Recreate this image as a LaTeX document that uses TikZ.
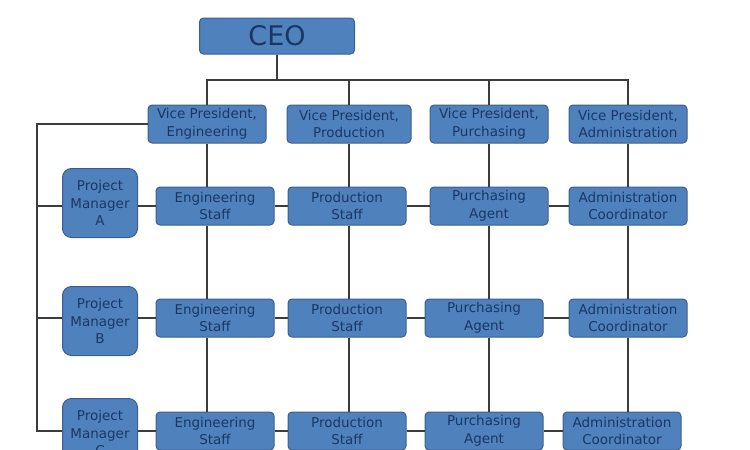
\documentclass[tikz,border=0pt]{standalone}
\usepackage{fontspec}
\setmainfont{DejaVu Sans}
\usepackage{xcolor}
\definecolor{boxblue}{HTML}{4F81BD}
\definecolor{boxline}{HTML}{3A5F8E}
\definecolor{boxtext}{HTML}{1B3766}
\definecolor{wirecol}{HTML}{3C3C3C}

\begin{document}
\begin{tikzpicture}[x=1pt, y=-1pt,
  box/.style={draw=boxline, fill=boxblue, rounded corners=4pt, line width=1pt, text=boxtext, align=center, inner sep=0pt,
    font=\fontsize{13.5}{17.5}\selectfont, minimum width=118pt, minimum height=38pt},
  pmbox/.style={box, rounded corners=9pt, minimum width=75pt, minimum height=69pt},
  ceobox/.style={box, font=\fontsize{27}{30}\selectfont, minimum width=155pt, minimum height=36pt},
  wire/.style={draw=wirecol, line width=1.7pt}]
\useasboundingbox (0,0) rectangle (750,450);
\draw node(ceo)[ceobox] at (277,36) {CEO};
\draw node(vp1)[box] at (207,124) {Vice President,\\Engineering};
\draw node(vp2)[box, minimum width=124pt] at (349,124) {Vice President,\\Production};
\draw node(vp3)[box] at (489,124) {Vice President,\\Purchasing};
\draw node(vp4)[box] at (628,124) {Vice President,\\Administration};
\draw node(pm1)[pmbox] at (100,203) {Project\\Manager\\A};
\draw node(pm2)[pmbox] at (100,321) {Project\\Manager\\B};
\draw node(pm3)[pmbox] at (100,433) {Project\\Manager\\C};
\draw node(e1)[box] at (215,206) {Engineering\\Staff};
\draw node(p1)[box] at (347,206) {Production\\Staff};
\draw node(u1)[box] at (489,206) {Purchasing\\Agent};
\draw node(a1)[box] at (628,206) {Administration\\Coordinator};
\draw node(e2)[box] at (215,318) {Engineering\\Staff};
\draw node(p2)[box] at (347,318) {Production\\Staff};
\draw node(u2)[box] at (484,318) {Purchasing\\Agent};
\draw node(a2)[box] at (628,318) {Administration\\Coordinator};
\draw node(e3)[box] at (215,431) {Engineering\\Staff};
\draw node(p3)[box] at (347,431) {Production\\Staff};
\draw node(u3)[box] at (484,431) {Purchasing\\Agent};
\draw node(a3)[box] at (622,431) {Administration\\Coordinator};
% CEO to vice presidents
\coordinate (bus) at (ceo.south |- 0,80);
\draw[wire] (ceo.south) -- (bus);
\draw[wire] (vp1.north) |- (bus) -| (vp4.north);
\draw[wire] (vp2.north) -- (vp2.north |- bus);
\draw[wire] (vp3.north) -- (vp3.north |- bus);
% columns
\draw[wire] (vp1.south) -- (vp1.south |- e1.north);
\draw[wire] (vp1.south |- e1.south) -- (vp1.south |- e2.north);
\draw[wire] (vp1.south |- e2.south) -- (vp1.south |- e3.north);
\draw[wire] (vp2.south) -- (vp2.south |- p1.north);
\draw[wire] (vp2.south |- p1.south) -- (vp2.south |- p2.north);
\draw[wire] (vp2.south |- p2.south) -- (vp2.south |- p3.north);
\draw[wire] (vp3.south) -- (u1.north);
\draw[wire] (u1.south) -- (u1.south |- u2.north);
\draw[wire] (u1.south |- u2.south) -- (u1.south |- u3.north);
\draw[wire] (vp4.south) -- (a1.north);
\draw[wire] (a1.south) -- (a2.north);
\draw[wire] (a1.south |- a2.south) -- (a1.south |- a3.north);
% project managers
\coordinate (left) at (37,124);
\draw[wire] (vp1.west) -- (left) |- (pm3.west |- e3);
\draw[wire] (left |- e1) -- (pm1.west |- e1);
\draw[wire] (left |- e2) -- (pm2.west |- e2);
% rows
\draw[wire] (pm1.east |- e1) -- (e1.west);
\draw[wire] (e1) -- (p1) -- (u1) -- (a1);
\draw[wire] (pm2.east |- e2) -- (e2.west);
\draw[wire] (e2) -- (p2) -- (u2) -- (a2);
\draw[wire] (pm3.east |- e3) -- (e3.west);
\draw[wire] (e3) -- (p3) -- (u3) -- (a3);
\end{tikzpicture}
\end{document}
